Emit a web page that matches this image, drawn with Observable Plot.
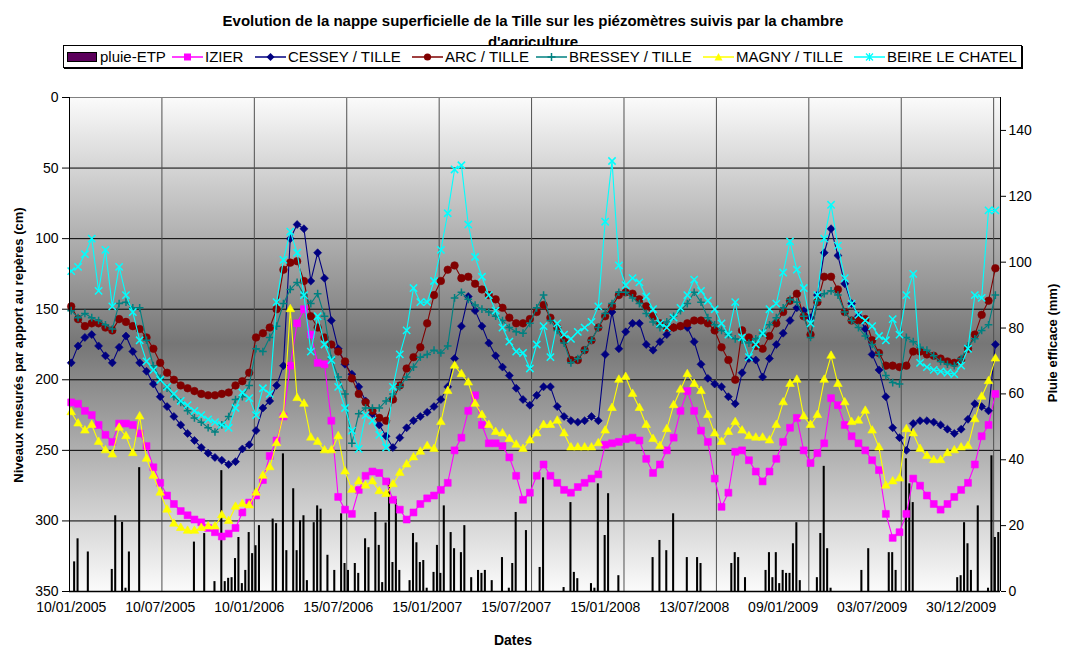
<!DOCTYPE html>
<html>
<head>
<meta charset="utf-8">
<script src="https://cdn.jsdelivr.net/npm/d3@7"></script>
<script src="https://cdn.jsdelivr.net/npm/@observablehq/plot@0.6"></script>
<style>
  html, body { margin: 0; padding: 0; background: #fff; }
  #wrap { position: relative; width: 1066px; height: 653px; overflow: hidden; font-family: "Liberation Sans", Arial, sans-serif; color: #000; }
  #chart { position: absolute; left: 0; top: 0; }
  #title { position: absolute; left: 0; top: 10px; width: 1066px; text-align: center; font-weight: bold; font-size: 15px; line-height: 21px; }
  #legend { position: absolute; left: 63px; top: 45px; width: 957px; height: 21px; border: 1px solid #000; background: #fff; box-shadow: 1px 1px 0 #000; }
  .li { position: absolute; top: 0; height: 21px; display: flex; align-items: center; font-size: 15px; white-space: nowrap; }
  .ytitle { position: absolute; font-weight: bold; font-size: 13px; white-space: nowrap; transform: translate(-50%, -50%) rotate(-90deg); }
  #xtitle { position: absolute; left: 513px; top: 640px; transform: translate(-50%, -50%); font-weight: bold; font-size: 14px; }
</style>
</head>
<body>
<div id="wrap">
  <div id="chart"></div>
  <div id="title">Evolution de la nappe superficielle de la Tille sur les piézomètres suivis par la chambre<br>d'agriculture</div>
  <div id="legend"></div>
  <div class="ytitle" style="left:18px; top:345px;">Niveaux mesurés par apport au repères (cm)</div>
  <div class="ytitle" style="left:1052px; top:343px;">Pluie efficace (mm)</div>
  <div id="xtitle">Dates</div>
</div>
<script>
// ---------- DATA ----------
const categoryCount = 272;          // weekly categories on the x axis
const step = 2;                     // values below are read every 2nd category
const labelIdx = [0, 26, 52, 78, 104, 130, 156, 182, 208, 234, 260];
const dateLabels = ["10/01/2005", "10/07/2005", "10/01/2006", "15/07/2006", "15/01/2007", "15/07/2007",
                    "15/01/2008", "13/07/2008", "09/01/2009", "03/07/2009", "30/12/2009"];
const gridIdx = [27, 54, 81, 108, 135, 162, 189, 216, 243, 270];
const leftTicks = [0, 50, 100, 150, 200, 250, 300, 350];
const rightTicks = [0, 20, 40, 60, 80, 100, 120, 140];

// pluie-ETP (mm) : category index and value
const rainIdx = [1,2,5,12,13,15,16,17,20,36,39,42,44,45,46,47,48,49,50,51,52,53,54,55,59,60,62,63,65,66,67,68,69,71,72,73,75,77,79,80,81,83,84,86,87,89,90,91,92,93,94,95,96,99,100,101,102,103,104,106,107,108,109,111,112,114,115,117,119,120,121,123,126,128,129,130,133,137,138,144,146,147,148,152,153,154,156,157,160,170,172,174,176,180,183,184,193,194,195,197,203,204,205,206,207,208,209,210,211,212,213,218,219,220,221,222,231,233,239,240,241,244,245,246,259,260,261,262,263,265,268,269,270,271];
const rainMm  = [9,16,12,6.7,23,21,1,12,37.6,15,17.6,3,36.7,3,4,4.2,10,16.4,2.4,6.4,17.9,11.5,13.9,20,22,20.6,41.8,12.4,31.2,12.4,21.5,23,3.3,20.9,26,25,11,6.4,23.6,8.5,6.4,8.5,5.5,16,13.3,24,14,2.7,20.8,34,8.8,28,6.4,3.3,17.6,14.8,8.8,9.4,1,5.8,14,5.5,26,17.9,13,11.8,20,4.2,6.4,5.5,6.4,3.3,10.3,1,8.5,24,18.5,7.3,34.5,1.2,27,5.8,3.9,2.4,1,32.7,17,29.7,4.8,10.3,15.5,12.4,23.6,10.3,10.3,8.5,8.5,11.8,10.3,4.2,6.4,11.8,4.2,11.8,2.4,6.4,5.5,5.5,14.5,20.9,3.3,4.2,17.6,38,13,1,6.4,13,11.8,11.8,6.4,40.3,32.7,27,4.2,4.8,20.9,14.5,6.4,26,1,41.2,16.4,17.9];

// water levels (cm below reference), every 2nd category
const izier = [
  216,217,222,225,232,239,244,231,231,232,
  238,247,262,273,282,288,293,296,299,301,
  305,308,311,309,305,294,287,282,271,254,
  243,226,190,160,150,168,188,189,229,283,
  292,295,278,268,265,266,272,285,292,299,
  294,288,284,282,278,273,250,241,222,211,
  232,245,245,247,255,268,285,280,268,260,
  268,273,278,280,276,273,270,267,246,245,
  244,242,241,243,256,266,260,250,241,222,
  208,222,236,244,270,290,280,251,250,257,
  265,272,265,256,244,234,227,250,259,252,
  245,213,218,232,240,245,250,257,264,295,
  312,308,295,270,275,282,288,292,288,283,
  278,273,260,240,232,210];
const cessey = [
  188,176,170,168,176,183,188,177,169,180,
  188,194,203,212,219,226,232,238,243,248,
  252,255,257,260,258,249,246,236,220,215,
  204,190,100,90,93,130,110,128,158,178,
  189,196,205,215,224,232,240,248,241,234,
  229,226,223,219,214,205,185,162,141,151,
  162,174,183,191,197,206,214,218,211,205,
  205,219,226,229,230,229,226,229,182,152,
  178,166,160,160,175,179,173,168,163,162,
  163,173,189,199,203,205,212,217,195,185,
  186,198,185,175,167,158,149,151,156,140,
  110,93,112,132,146,155,164,182,193,212,
  234,241,250,231,229,229,230,232,235,238,
  235,228,217,219,222,175];
const arc = [
  148,157,162,160,160,163,165,157,159,162,
  164,170,178,188,195,200,204,206,208,210,
  211,211,210,209,204,201,195,170,167,163,
  150,122,117,116,130,155,163,170,175,180,
  187,199,210,216,222,227,229,214,204,192,
  184,177,160,140,130,122,119,128,127,132,
  136,140,143,149,156,160,160,157,152,147,
  156,163,172,186,186,179,172,163,155,148,
  140,138,139,143,148,155,160,163,163,162,
  160,158,158,160,165,177,186,200,165,170,
  176,178,169,160,152,144,139,155,168,145,
  127,127,136,152,158,158,157,172,181,190,
  190,191,190,180,180,182,183,185,187,188,
  186,178,168,154,144,121];
const bressey = [
  151,156,153,156,158,161,164,146,145,149,
  149,172,190,199,206,212,216,222,227,230,
  234,237,232,226,214,212,204,178,180,170,
  162,146,136,131,140,146,139,155,185,198,
  210,245,224,220,220,220,215,210,205,198,
  191,184,182,179,181,176,142,138,143,147,
  150,152,155,158,163,166,167,160,149,140,
  158,165,174,188,185,179,172,163,153,146,
  138,138,142,146,153,159,163,159,155,151,
  146,138,145,156,161,165,168,171,172,174,
  171,167,161,156,149,143,145,155,170,144,
  139,137,140,152,158,163,169,175,182,197,
  202,203,170,173,177,179,183,187,189,190,
  185,176,171,165,161,140];
const magny = [
  223,231,236,232,244,250,253,234,240,252,
  226,256,268,280,292,302,305,307,307,305,
  304,304,296,300,290,288,289,280,268,262,
  245,225,150,213,217,241,244,250,250,240,
  265,278,272,275,272,279,281,274,266,260,
  255,251,247,249,230,208,190,196,202,217,
  225,232,237,238,242,246,249,243,238,232,
  232,229,238,248,248,248,248,245,236,220,
  200,198,210,220,232,242,247,235,218,207,
  196,203,208,225,238,244,237,230,236,240,
  241,241,243,232,216,203,200,226,232,225,
  200,183,203,216,230,229,222,236,248,275,
  272,270,235,238,249,254,257,257,252,250,
  248,247,228,212,201,185];
const beire = [
  123,120,111,100,137,108,148,120,140,152,
  172,187,193,200,205,210,215,218,222,225,
  228,230,232,234,220,209,213,225,206,210,
  145,115,95,110,140,180,155,175,186,205,
  220,236,249,225,229,239,248,205,182,165,
  135,145,145,130,108,82,51,48,90,113,
  127,140,151,163,173,180,181,192,175,162,
  184,160,168,171,166,163,159,148,88,45,
  119,133,128,131,141,150,160,163,156,149,
  140,129,137,144,150,160,168,145,170,184,
  175,167,150,146,124,102,122,135,160,140,
  100,76,105,128,146,154,158,162,169,172,
  157,168,140,125,188,191,193,194,195,196,
  190,178,140,142,80,80];

// ---------- SERIES STYLE ----------
const series = [
  {name: "IZIER",            values: izier,   color: "#ff00ff", symbol: "square",   r: 3.9, filled: true},
  {name: "CESSEY / TILLE",   values: cessey,  color: "#000080", symbol: "diamond2", r: 3.6, filled: true},
  {name: "ARC / TILLE",      values: arc,     color: "#800000", symbol: "circle",   r: 3.8, filled: true},
  {name: "BRESSEY / TILLE",  values: bressey, color: "#008080", symbol: "plus",     r: 2.6, filled: false},
  {name: "MAGNY / TILLE",    values: magny,   color: "#ffff00", symbol: "triangle", r: 3.2, filled: true},
  {name: "BEIRE LE CHATEL",  values: beire,   color: "#00ffff", symbol: "times",    r: 3.4, filled: false}
];

// right axis (mm, 0..150) shares the left axis pixel range (cm, 0..350)
const mmMax = 150, cmMax = 350;
const mmToCm = mm => cmMax - mm * cmMax / mmMax;
const cmToMm = cm => Math.round((cmMax - cm) * mmMax / cmMax);

const rain = rainIdx.map((i, k) => ({i, mm: rainMm[k]}));

function background(index, scales, values, dims) {
  const g = d3.create("svg:g");
  const grad = g.append("defs").append("linearGradient")
    .attr("id", "bgGrad").attr("x1", 0).attr("y1", 0).attr("x2", 0).attr("y2", 1);
  [[0, "#fbfbfb"], [0.5, "#767676"], [1, "#fbfbfb"]].forEach(([o, c]) =>
    grad.append("stop").attr("offset", o).attr("stop-color", c));
  g.append("rect")
    .attr("x", dims.marginLeft).attr("y", dims.marginTop)
    .attr("width", dims.width - dims.marginLeft - dims.marginRight)
    .attr("height", dims.height - dims.marginTop - dims.marginBottom)
    .attr("fill", "url(#bgGrad)");
  return g.node();
}

const marks = [
  background,
  Plot.ruleY([50, 100, 150, 200, 250, 300], {stroke: "#000", strokeWidth: 1}),
  Plot.ruleX(gridIdx, {stroke: "#505050", strokeWidth: 1}),
  Plot.ruleY([0], {stroke: "#808080", strokeWidth: 1}),
  Plot.rect(rain, {x1: d => d.i + 0.2, x2: d => d.i + 0.8, y1: () => cmMax, y2: d => mmToCm(d.mm), fill: "#000"})
];
for (const s of series) {
  const rows = s.values.map((v, k) => ({x: k * step + 0.5, v}));
  marks.push(Plot.line(rows, {x: "x", y: "v", stroke: s.color, strokeWidth: 1.1}));
  marks.push(Plot.dot(rows, {
    x: "x", y: "v", symbol: s.symbol, r: s.r,
    fill: s.filled ? s.color : "none", stroke: s.color, strokeWidth: s.filled ? 0.6 : 1.5
  }));
}
marks.push(
  Plot.ruleX([0], {stroke: "#000", strokeWidth: 1}),
  Plot.ruleX([categoryCount], {stroke: "#000", strokeWidth: 1}),
  Plot.ruleY([cmMax], {stroke: "#000", strokeWidth: 1.5}),
  Plot.axisY({anchor: "left", ticks: leftTicks, tickSize: 7, tickPadding: 4, fontSize: 14, label: null, tickFormat: d => String(d)}),
  Plot.axisY({anchor: "right", ticks: rightTicks.map(mmToCm), tickSize: 5, tickPadding: 3, fontSize: 14, label: null, tickFormat: d => String(cmToMm(d))}),
  Plot.axisX({ticks: labelIdx.map(i => i + 0.5), tickSize: 0, tickPadding: 11, fontSize: 14, label: null,
    tickFormat: d => dateLabels[labelIdx.indexOf(Math.round(d - 0.5))]})
);

const chart = Plot.plot({
  width: 1066, height: 653,
  marginLeft: 69, marginRight: 66, marginTop: 97, marginBottom: 62,
  x: {type: "linear", domain: [0, categoryCount], axis: null},
  y: {type: "linear", domain: [0, cmMax], reverse: true, axis: null},
  style: {background: "transparent", fontFamily: "'Liberation Sans', Arial, sans-serif", fontSize: "14px", color: "#000", overflow: "visible"},
  marks
});
document.getElementById("chart").appendChild(chart);

// ---------- LEGEND ----------
// page x positions of each legend symbol and label
const legendSym  = [67, 172, 255, 412, 536, 703, 854];
const legendText = [100, 205, 288, 445, 569, 736, 887];
const legendOrigin = 64;
const legend = document.getElementById("legend");
function symbolSvg(s) {
  const c = s.color;
  let m = "";
  if (s.symbol === "square") m = `<rect x="12" y="2.5" width="7" height="7" fill="${c}"/>`;
  else if (s.symbol === "diamond2") m = `<path d="M15.5 2 L19.5 6 L15.5 10 L11.5 6 Z" fill="${c}"/>`;
  else if (s.symbol === "circle") m = `<circle cx="15.5" cy="6" r="3.6" fill="${c}"/>`;
  else if (s.symbol === "plus") m = `<path d="M15.5 2 V10 M11.5 6 H19.5" stroke="${c}" stroke-width="1.5"/>`;
  else if (s.symbol === "triangle") m = `<path d="M15.5 2 L19.5 9.5 L11.5 9.5 Z" fill="${c}"/>`;
  else if (s.symbol === "times") m = `<path d="M12 2.5 L19 9.5 M19 2.5 L12 9.5 M15.5 2 V10" stroke="${c}" stroke-width="1.3"/>`;
  return `<svg width="31" height="12" style="display:block"><line x1="0" y1="6" x2="31" y2="6" stroke="${c}" stroke-width="1.5"/>${m}</svg>`;
}
function addItem(symHtml, text, k) {
  const d = document.createElement("div");
  d.className = "li"; d.style.left = (legendSym[k] - legendOrigin) + "px"; d.innerHTML = symHtml;
  legend.appendChild(d);
  const t = document.createElement("div");
  t.className = "li"; t.style.left = (legendText[k] - legendOrigin) + "px"; t.textContent = text;
  legend.appendChild(t);
}
addItem(`<svg width="30" height="10" style="display:block"><rect x="0.5" y="0.5" width="29" height="9" fill="#5c005c" stroke="#000"/></svg>`, "pluie-ETP", 0);
series.forEach((s, k) => addItem(symbolSvg(s), s.name, k + 1));
</script>
</body>
</html>
